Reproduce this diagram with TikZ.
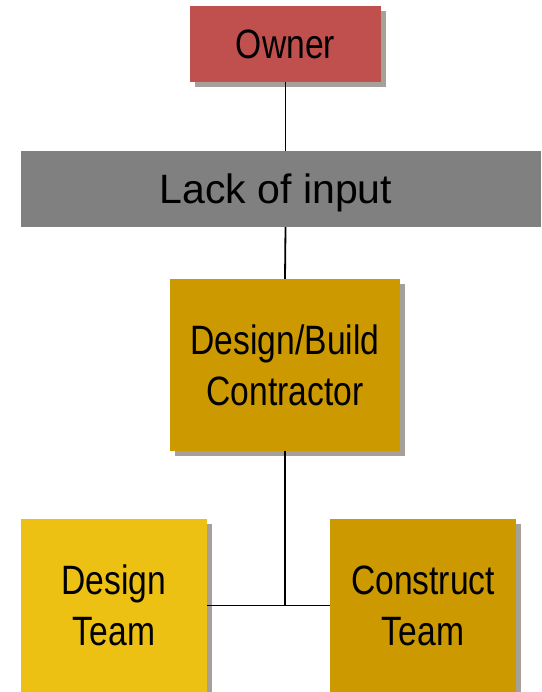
\documentclass[tikz,border=0pt]{standalone}
\usepackage{fontspec}
\setmainfont{Liberation Sans}
\newfontfamily\narrowfont[FakeStretch=0.82]{Liberation Sans}
\usetikzlibrary{shadows}

\definecolor{ownerred}{RGB}{192,80,77}
\definecolor{lackgray}{RGB}{128,128,128}
\definecolor{contractgold}{RGB}{204,153,0}
\definecolor{designyellow}{RGB}{236,193,19}
\definecolor{shadowgray}{RGB}{166,160,154}

\begin{document}
\begin{tikzpicture}[x=1pt,y=-1pt,
  orgbox/.style={rectangle, inner sep=0pt, align=center, text=black,
    font=\narrowfont\fontsize{41}{51}\selectfont,
    drop shadow={shadow xshift=5pt, shadow yshift=-5pt, fill=shadowgray, opacity=1}},
  link/.style={line width=1.8pt, black}]
  \useasboundingbox (0,0) rectangle (541,692);
  \fill[white] (0,0) rectangle (541,692);

  % boxes
  \node[orgbox, fill=ownerred, minimum width=191pt, minimum height=76pt,
    text height=29pt, text depth=0pt]
    (owner) at (285.5,44) {Owner};
  \node[rectangle, inner sep=0pt, fill=lackgray, text=black,
    minimum width=520pt, minimum height=76pt, text height=29pt, text depth=0pt,
    font=\fontsize{41}{49}\selectfont]
    (lack) at (281,189) {\hspace*{-10pt}Lack of input};
  \node[orgbox, fill=contractgold, minimum width=230pt, minimum height=172pt]
    (db) at (285,365) {Design/Build\\Contractor};
  \node[orgbox, fill=designyellow, minimum width=186pt, minimum height=173pt]
    (design) at (114,605.5) {Design\\Team};
  \node[orgbox, fill=contractgold, minimum width=186pt, minimum height=173pt]
    (construct) at (423,605.5) {Construct\\Team};

  % connectors
  \draw[link] (owner.south) -- (owner.south |- lack.north);
  \draw[link] (owner.south |- lack.south) -- (db.north);
  \coordinate (junction) at (db.south |- design.east);
  \draw[link] (db.south) -- (junction);
  \draw[link] (design.east) -- (construct.west);
\end{tikzpicture}
\end{document}
